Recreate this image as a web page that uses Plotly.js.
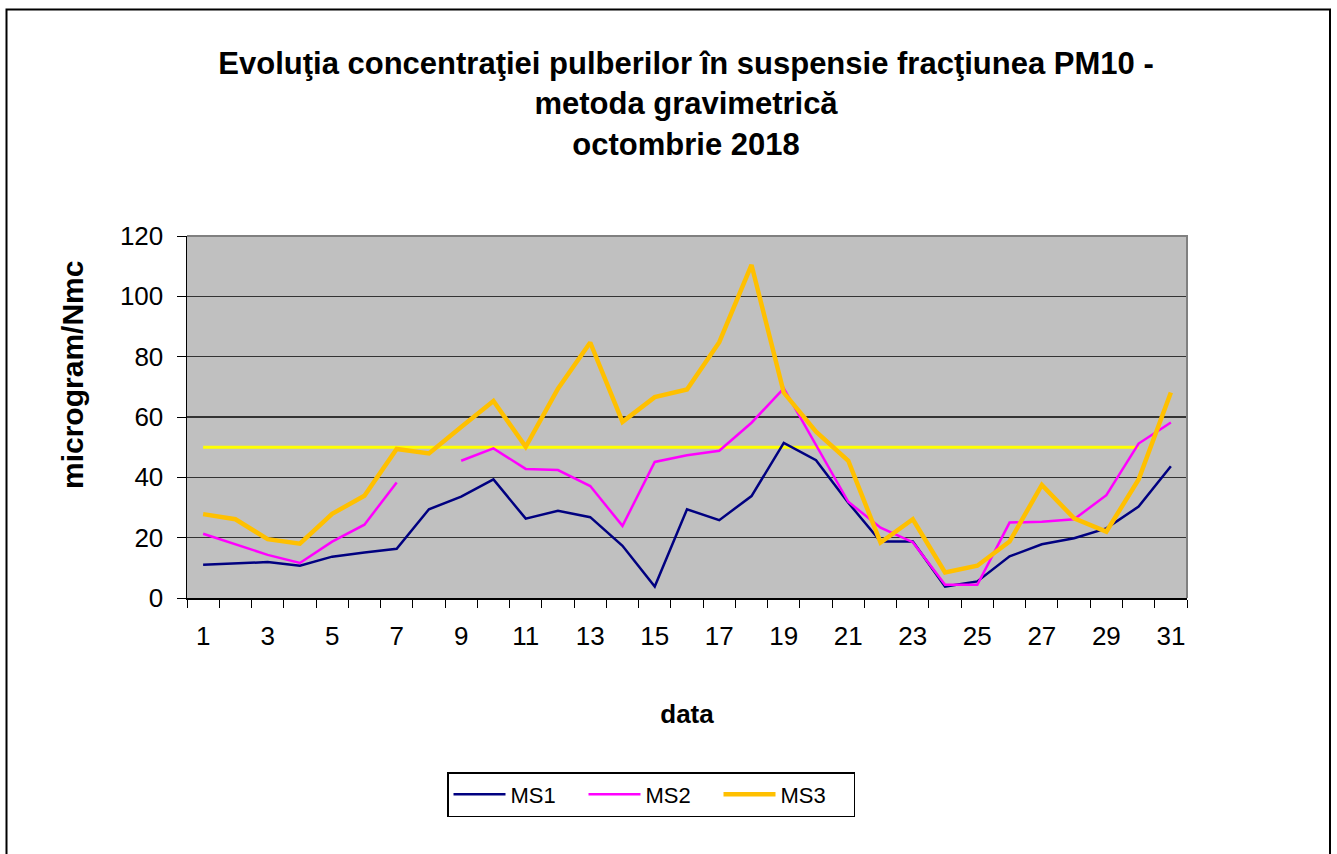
<!DOCTYPE html>
<html>
<head>
<meta charset="utf-8">
<script src="https://cdn.plot.ly/plotly-3.0.1.min.js"></script>
<style>
html,body{margin:0;padding:0;background:#fff;}
#chart{width:1337px;height:854px;}
</style>
</head>
<body>
<div id="chart"></div>
<script>
var days = [1,2,3,4,5,6,7,8,9,10,11,12,13,14,15,16,17,18,19,20,21,22,23,24,25,26,27,28,29,30,31];
var ms1 = [11.0,11.4,11.9,10.7,13.7,15.1,16.3,29.4,33.6,39.3,26.3,28.9,26.8,17.3,3.8,29.4,25.8,33.8,51.4,45.7,31.6,18.7,18.7,3.8,5.5,13.8,17.8,19.8,23.1,30.3,43.7];
var ms2 = [21.3,17.8,14.3,11.6,18.7,24.3,38.3,null,45.5,49.6,42.8,42.4,37.1,23.9,45.1,47.3,48.8,58.1,69.5,50.8,31.9,23.3,18.5,4.4,4.4,25.0,25.3,26.1,34.1,51.2,58.2];
var ms3 = [27.8,26.1,19.5,18.0,27.9,33.9,49.4,47.9,56.7,65.3,50.1,69.4,84.7,58.4,66.6,69.1,84.8,110.4,68.1,55.1,45.5,18.4,26.1,8.5,10.7,18.7,37.5,26.4,22.0,39.3,68.1];
var limitDays = [1,2,3,4,5,6,7,8,9,10,11,12,13,14,15,16,17,18,19,20,21,22,23,24,25,26,27,28,29,30];
var limitVal = [50,50,50,50,50,50,50,50,50,50,50,50,50,50,50,50,50,50,50,50,50,50,50,50,50,50,50,50,50,50];
var xTickVals = [1,3,5,7,9,11,13,15,17,19,21,23,25,27,29,31];
var xTickText = ['1','3','5','7','9','11','13','15','17','19','21','23','25','27','29','31'];
var yTickVals = [0,20,40,60,80,100,120];
var seriesNames = ['MS1','MS2','MS3'];

var FONT = 'Liberation Sans, Arial, sans-serif';

var traces = [
  {x: limitDays, y: limitVal, type:'scatter', mode:'lines', name:'limita', showlegend:false,
   line:{color:'#FFFF00', width:3}, hoverinfo:'skip'},
  {x: days, y: ms1, type:'scatter', mode:'lines', name: seriesNames[0],
   line:{color:'#000080', width:2.5}, connectgaps:false},
  {x: days, y: ms2, type:'scatter', mode:'lines', name: seriesNames[1],
   line:{color:'#FF00FF', width:2.5}, connectgaps:false},
  {x: days, y: ms3, type:'scatter', mode:'lines', name: seriesNames[2],
   line:{color:'#FFC000', width:4.5}, connectgaps:false}
];

var layout = {
  width:1337, height:854,
  paper_bgcolor:'#FFFFFF', plot_bgcolor:'#C0C0C0',
  margin:{l:187, r:150, t:236, b:256, pad:0},
  font:{family:FONT, color:'#000'},
  title:{
    text:'<b>Evoluţia concentraţiei pulberilor în suspensie fracţiunea PM10 -<br>metoda gravimetrică<br>octombrie 2018</b>',
    font:{family:FONT, size:31, color:'#000'},
    x:(686/1337), xanchor:'center', xref:'container',
    y:1-74/854, yanchor:'top', yref:'container'
  },
  xaxis:{
    range:[0.5,31.5], type:'linear',
    tickmode:'array', tickvals:xTickVals, ticktext:xTickText,
    ticks:'', ticklabelstandoff:14,
    tickfont:{family:FONT, size:26, color:'#000'},
    showgrid:false, zeroline:false,
    showline:true, linecolor:'#000', linewidth:1.5,
    minor:{tick0:0.5, dtick:1, ticks:'outside', ticklen:8, tickcolor:'#000', tickwidth:1, showgrid:false},
    title:{text:'<b>data</b>', font:{family:FONT, size:26, color:'#000'}, standoff:55},
    fixedrange:true
  },
  yaxis:{
    range:[0,120], tickmode:'array', tickvals:yTickVals,
    ticks:'outside', ticklen:9, tickcolor:'#000', tickwidth:1,
    ticklabelstandoff:8,
    tickfont:{family:FONT, size:26, color:'#000'},
    showgrid:true, gridcolor:'#333333', gridwidth:1.5,
    zeroline:false, showline:true, linecolor:'#000', linewidth:1.5,
    fixedrange:true
  },
  showlegend:true,
  legend:{
    orientation:'h', x:(651-187)/1000, xanchor:'center',
    y:(598-772)/362, yanchor:'top',
    bordercolor:'#000', borderwidth:1.5, bgcolor:'#FFFFFF',
    font:{family:FONT, size:22, color:'#000'},
    entrywidth:68, entrywidthmode:'pixels', itemwidth:52
  },
  annotations:[
    {text:'<b>microgram/Nmc</b>', xref:'paper', yref:'paper',
     x:(72-187)/1000, y:(598-375)/362, xanchor:'center', yanchor:'middle',
     textangle:-90, showarrow:false, font:{family:FONT, size:30, color:'#000'}}
  ],
  shapes:[
    {type:'path', xref:'paper', yref:'paper', path:'M0,1 L1,1 L1,0', line:{color:'#808080', width:2}, layer:'above'},
    {type:'rect', xref:'paper', yref:'paper', x0:(6.5-187)/1000, x1:(1330-187)/1000, y0:-2, y1:(598-9.5)/362,
     line:{color:'#000', width:2}, fillcolor:'rgba(0,0,0,0)', layer:'above'}
  ]
};

Plotly.newPlot('chart', traces, layout, {displayModeBar:false, staticPlot:true});
</script>
</body>
</html>
